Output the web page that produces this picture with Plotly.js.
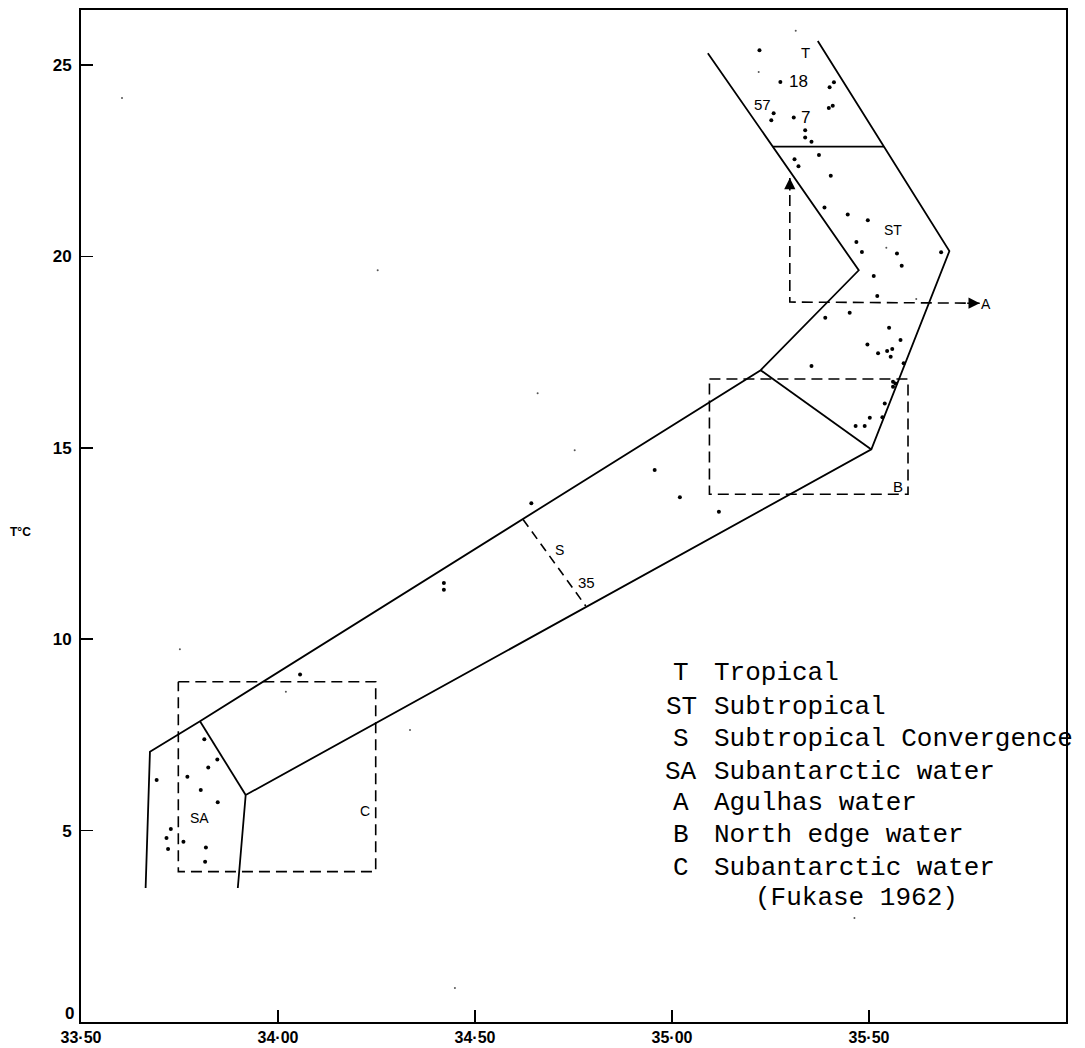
<!DOCTYPE html>
<html>
<head>
<meta charset="utf-8">
<script src="https://cdn.plot.ly/plotly-3.0.1.min.js"></script>
<style>html,body{margin:0;padding:0;background:#fff;}#chart{width:1085px;height:1048px;}</style>
</head>
<body>
<div id="chart"></div>
<script>
// ---- Water-mass boundary lines (salinity S, temperature T) ----
const outerLeftS  = [33.664, 33.675, 33.802, 35.225, 35.474, 35.091];
const outerLeftT  = [3.5, 7.06, 7.86, 17.03, 19.64, 25.31];
const outerRightS = [33.898, 33.918, 35.506, 35.704, 35.370];
const outerRightT = [3.5, 5.93, 14.96, 20.14, 25.63];
const tropBoundS  = [35.256, 35.538];
const tropBoundT  = [22.87, 22.87];
const northBoundS = [35.225, 35.506];
const northBoundT = [17.03, 14.96];
const subantBoundS = [33.802, 33.918];
const subantBoundT = [7.86, 5.93];
const convS = [34.622, 34.781];
const convT = [13.13, 10.87];
// dashed boxes
const boxCS = [33.747, 34.248, 34.248, 33.747, 33.747];
const boxCT = [8.89, 8.89, 3.93, 3.93, 8.89];
const boxBS = [35.095, 35.599, 35.599, 35.095, 35.095];
const boxBT = [16.80, 16.80, 13.79, 13.79, 16.80];
// dashed arrow (Agulhas)
const arrowS = [35.299, 35.299, 35.781];
const arrowT = [22.05, 18.81, 18.78];
// observed stations
const dotS = [35.222,35.275,35.400,35.411,35.398,35.408,35.258,35.252,35.309,35.338,35.338,35.354,35.373,35.311,35.321,35.403,
  35.387,35.446,35.497,35.468,35.482,35.571,35.583,35.683,35.512,35.521,35.389,35.451,35.551,35.580,35.496,35.523,35.546,35.559,35.555,35.354,35.588,
  35.561,35.561,35.567,35.540,35.534,35.502,35.466,35.489,35.119,34.643,34.956,35.020,34.421,34.421,
  34.056,33.813,33.846,33.823,33.770,33.692,33.804,33.847,33.728,33.717,33.760,33.721,33.817,33.815];
const dotT = [25.39,24.56,24.42,24.55,23.88,23.94,23.74,23.56,23.63,23.30,23.11,23.00,22.65,22.54,22.36,22.11,
  21.28,21.10,20.95,20.38,20.12,20.08,19.76,20.11,19.49,18.97,18.40,18.53,18.14,17.82,17.70,17.47,17.53,17.58,17.38,17.14,17.21,
  16.73,16.60,16.68,16.16,15.80,15.79,15.57,15.57,13.33,13.55,14.42,13.71,11.47,11.29,
  9.08,7.39,6.86,6.65,6.41,6.32,6.06,5.74,5.04,4.81,4.71,4.52,4.56,4.19];
// faint specks
const speckS = [35.220,35.544,35.620,34.020,33.751,34.335,34.253,33.604,34.753,34.659,35.463,35.314,34.449];
const speckT = [24.82,20.23,18.89,8.63,9.74,7.63,19.64,24.14,14.94,16.43,2.72,25.9,0.89];
// axis ticks
const xTickVals = [33.5, 34.0, 34.5, 35.0, 35.5, 36.0];
const xTickText = ['33·50', '34·00', '34·50', '35·00', '35·50', '36·00'];
const yTickVals = [5, 10, 15, 20, 25];
const yTickText = ['5', '10', '15', '20', '25'];
const yZeroLabel = '0';
// legend
const legendAbbr = ['T', 'ST', 'S', 'SA', 'A', 'B', 'C', ''];
const legendName = ['Tropical', 'Subtropical', 'Subtropical Convergence', 'Subantarctic water',
  'Agulhas water', 'North edge water', 'Subantarctic water', '(Fukase 1962)'];

const solid = {color: '#000', width: 1.8};
const dashed = {color: '#000', width: 1.6, dash: '11px,6px'};
function ln(x, y, line) { return {x: x, y: y, mode: 'lines', line: line, hoverinfo: 'skip', showlegend: false}; }

const traces = [
  ln(outerLeftS, outerLeftT, solid),
  ln(outerRightS, outerRightT, solid),
  ln(tropBoundS, tropBoundT, solid),
  ln(northBoundS, northBoundT, solid),
  ln(subantBoundS, subantBoundT, solid),
  ln(convS, convT, {color: '#000', width: 1.6, dash: '9px,6px'}),
  ln(boxCS, boxCT, dashed),
  ln(boxBS, boxBT, dashed),
  ln(arrowS, arrowT, dashed),
  {x: dotS, y: dotT, mode: 'markers', marker: {color: '#000', size: 4}, hoverinfo: 'skip', showlegend: false},
  {x: speckS, y: speckT, mode: 'markers', marker: {color: '#555', size: 2}, hoverinfo: 'skip', showlegend: false}
];

const lblFont = {family: 'Liberation Sans Narrow, Liberation Sans, Arial, sans-serif', size: 15, color: '#000'};
function lab(x, y, t, size) {
  return {x: x, y: y, xref: 'x', yref: 'y', text: t, showarrow: false,
    font: Object.assign({}, lblFont, {size: size || 15}), xanchor: 'center', yanchor: 'middle'};
}
const yTickFont = {family: 'Liberation Sans, Arial, sans-serif', size: 17, color: '#000', weight: 'bold'};
const annotations = [
  lab(35.339, 25.34, 'T', 15),
  lab(35.322, 24.56, '18', 17),
  lab(35.230, 23.98, '57', 15),
  lab(35.338, 23.64, '7', 17),
  lab(35.560, 20.69, 'ST', 14),
  lab(35.798, 18.76, 'A', 14),
  lab(35.573, 14.0, 'B', 15),
  lab(33.802, 5.33, 'SA', 14),
  lab(34.220, 5.51, 'C', 14),
  lab(34.715, 12.33, 'S', 14),
  lab(34.784, 11.47, '35', 15),
  // arrowheads at the dashed-arrow tips
  {x: arrowS[0], y: arrowT[0], xref: 'x', yref: 'y', ax: 0, ay: 14, showarrow: true, arrowhead: 2, arrowsize: 1.4, arrowwidth: 1.6, arrowcolor: '#000', text: ''},
  {x: arrowS[2], y: arrowT[2], xref: 'x', yref: 'y', ax: -14, ay: 0, showarrow: true, arrowhead: 2, arrowsize: 1.4, arrowwidth: 1.6, arrowcolor: '#000', text: ''},
  {xref: 'paper', yref: 'paper', x: (20 - 81) / 985, y: (1022 - 532) / 1012,
    text: 'T°C', showarrow: false, xanchor: 'center', yanchor: 'middle',
    font: {family: 'Liberation Sans, Arial, sans-serif', size: 12, color: '#000', weight: 'bold'}},
  // "0" of the temperature axis, sitting just above the salinity labels
  {xref: 'paper', yref: 'paper', x: (76 - 81) / 985, y: (1022 - 1013) / 1012,
    text: yZeroLabel, showarrow: false, xanchor: 'right', yanchor: 'middle', font: yTickFont}
];

const legFont = {family: 'Liberation Mono, Courier New, monospace', size: 26, color: '#000'};
const legRowT = [9.12, 8.23, 7.39, 6.53, 5.72, 4.89, 4.02, 3.24];
legendName.forEach(function (name, i) {
  if (legendAbbr[i]) {
    annotations.push({x: 35.024, y: legRowT[i], xref: 'x', yref: 'y', text: legendAbbr[i], showarrow: false,
      xanchor: 'center', yanchor: 'middle', font: legFont});
  }
  annotations.push({x: i === 7 ? 35.205 : 35.101, y: legRowT[i], xref: 'x', yref: 'y', text: name, showarrow: false,
    xanchor: 'left', yanchor: 'middle', font: legFont});
});

const tickFont = {family: 'Liberation Sans Narrow, Liberation Sans, Arial, sans-serif', size: 16, color: '#000', weight: 'bold'};
const layout = {
  width: 1085, height: 1048,
  margin: {l: 81, r: 19, t: 10, b: 26, pad: 0},
  paper_bgcolor: '#fff', plot_bgcolor: '#fff',
  showlegend: false,
  xaxis: {range: [33.5, 36.0], tickvals: xTickVals, ticktext: xTickText, ticks: 'inside', ticklen: 12, tickwidth: 1.6,
    tickcolor: '#000', showline: true, linewidth: 2, linecolor: '#000', mirror: true, showgrid: false, zeroline: false,
    tickfont: tickFont, fixedrange: true},
  yaxis: {range: [0, 26.44], tickvals: yTickVals, ticktext: yTickText, ticks: 'inside', ticklen: 12, tickwidth: 1.6,
    tickcolor: '#000', showline: true, linewidth: 2, linecolor: '#000', mirror: true, showgrid: false, zeroline: false,
    tickfont: yTickFont, ticklabelstandoff: 4, fixedrange: true},
  annotations: annotations
};
Plotly.newPlot('chart', traces, layout, {staticPlot: true, displayModeBar: false});
</script>
</body>
</html>
